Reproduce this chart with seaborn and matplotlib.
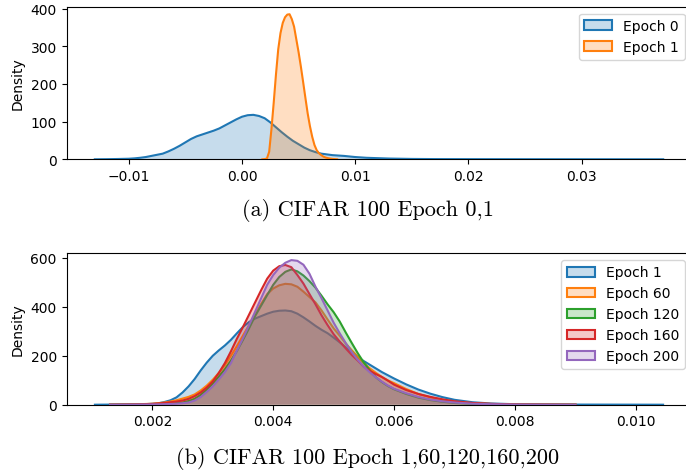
import numpy as np
import matplotlib
matplotlib.use("Agg")
import matplotlib.pyplot as plt
import matplotlib.patches as mpatches
from matplotlib.colors import to_rgba
import seaborn as sns

# ---- (a) CIFAR 100, epochs 0 and 1: density curves ----
top_labels = ["Epoch 0", "Epoch 1"]

top_x_epoch0 = [
    -0.0130, -0.0120, -0.0110,
    -0.0100, -0.0095, -0.0090, -0.0085, -0.0080, -0.0075, -0.0070, -0.0065,
    -0.0060, -0.0055, -0.0050, -0.0045, -0.0040, -0.0035, -0.0030, -0.0025,
    -0.0020, -0.0015, -0.0010, -0.0005, 0.0000, 0.0005, 0.0010, 0.0015,
    0.0020, 0.0025, 0.0030, 0.0035, 0.0040, 0.0045, 0.0050, 0.0055,
    0.0060, 0.0065, 0.0070, 0.0075, 0.0080, 0.0085, 0.0090, 0.0095, 0.0100,
    0.011, 0.012, 0.013, 0.015, 0.017, 0.020, 0.025, 0.030, 0.0372,
]
top_d_epoch0 = [
    0, 0.3, 0.8,
    1.5, 2.5, 4, 6, 9, 12, 15, 21,
    28, 36, 45, 54, 61, 66, 71, 76,
    82, 90, 98, 106, 113, 117, 118, 115,
    109, 98, 85, 72, 60, 49, 40, 31,
    24, 19, 15, 13, 11, 10, 9, 7.5, 6,
    4, 3, 2, 1, 0.6, 0.4, 0.25, 0.15, 0,
]

top_x_epoch1 = [
    0.0018, 0.0020, 0.0022, 0.0024, 0.0026, 0.0028, 0.0030, 0.0032, 0.0034,
    0.0036, 0.0038, 0.0040, 0.0042, 0.0044, 0.0046, 0.0048, 0.0050, 0.0052,
    0.0054, 0.0056, 0.0058, 0.0060, 0.0062, 0.0064, 0.0066, 0.0068, 0.0070,
    0.0072, 0.0074, 0.0076, 0.0078, 0.0080, 0.0082, 0.0084,
]
top_d_epoch1 = [
    0, 0.5, 2, 20, 80, 150, 225, 292, 335,
    362, 377, 384, 385, 372, 352, 318, 284, 246,
    205, 163, 122, 88, 60, 38, 24, 16, 11,
    7, 4.5, 3, 1.8, 1, 0.5, 0,
]

# ---- (b) CIFAR 100, epochs 1 to 200: density curves on a shared grid ----
nan = np.nan
bottom_labels = ["Epoch 1", "Epoch 60", "Epoch 120", "Epoch 160", "Epoch 200"]

bottom_x = [
    0.00105, 0.0013, 0.0015, 0.0017, 0.0019,
    0.0020, 0.0021, 0.0022, 0.0023, 0.0024, 0.0025, 0.0026, 0.0027, 0.0028, 0.0029,
    0.0030, 0.0031, 0.0032, 0.0033, 0.0034, 0.0035, 0.0036, 0.0037, 0.0038, 0.0039,
    0.0040, 0.0041, 0.0042, 0.0043, 0.0044, 0.0045, 0.0046, 0.0047, 0.0048, 0.0049,
    0.0050, 0.0051, 0.0052, 0.0053, 0.0054, 0.0055, 0.0056, 0.0057, 0.0058, 0.0059,
    0.0060,
    0.0062, 0.0064, 0.0066, 0.0068, 0.0070, 0.0073, 0.0076, 0.0080, 0.0085,
    0.0090, 0.0095, 0.0100, 0.01045,
]
bottom_d_epoch1 = [
    0, 0.5, 1, 1.5, 2.5,
    4, 6, 11, 18, 30, 50, 75, 105, 140, 172,
    200, 222, 242, 265, 292, 318, 338, 352, 362, 372,
    380, 384, 385, 382, 372, 357, 340, 322, 306, 292,
    274, 255, 235, 213, 193, 178, 163, 148, 133, 120,
    107,
    83, 62, 45, 31, 20, 10, 5, 2, 1,
    0.6, 0.4, 0.2, 0,
]
bottom_d_epoch60 = [
    nan, 0, 0.5, 1.5, 3,
    4, 6, 9, 13, 18, 25, 32, 42, 58, 78,
    102, 130, 162, 200, 240, 283, 325, 370, 412, 452,
    475, 488, 494, 492, 482, 462, 440, 418, 385, 348,
    312, 282, 250, 222, 196, 170, 148, 130, 113, 99,
    88,
    64, 44, 30, 20, 12, 6, 3, 1, 0.4,
    0, nan, nan, nan,
]
bottom_d_epoch120 = [
    nan, 0, 0.3, 0.8, 1.5,
    2, 3, 4, 5, 7, 9, 15, 24, 40, 62,
    87, 115, 145, 180, 220, 265, 312, 362, 405, 448,
    490, 522, 543, 553, 545, 528, 505, 478, 445, 410,
    378, 340, 295, 252, 210, 172, 140, 112, 92, 76,
    63,
    44, 29, 19, 12, 7, 3.5, 1.8, 0.7, 0.2,
    0, nan, nan, nan,
]
bottom_d_epoch160 = [
    nan, 0, 0.5, 1.2, 2.2,
    3, 5, 7, 10, 13, 17, 24, 35, 50, 70,
    95, 130, 170, 218, 270, 318, 368, 418, 468, 515,
    548, 566, 571, 562, 530, 495, 452, 410, 365, 325,
    288, 258, 230, 203, 180, 155, 138, 125, 113, 98,
    82,
    60, 44, 32, 22, 14, 7, 3.5, 1.3, 0.5,
    0, nan, nan, nan,
]
bottom_d_epoch200 = [
    nan, 0, 0.2, 0.5, 0.8,
    1, 1.5, 2, 3, 4, 6, 9, 17, 31, 52,
    75, 103, 133, 170, 222, 272, 325, 380, 435, 490,
    530, 560, 580, 591, 588, 572, 535, 482, 435, 385,
    335, 292, 252, 215, 183, 155, 132, 112, 94, 78,
    65,
    47, 32, 21, 14, 9, 4, 2, 0.7, 0.2,
    0, nan, nan, nan,
]

captions = ["(a) CIFAR 100 Epoch 0,1", "(b) CIFAR 100 Epoch 1,60,120,160,200"]

palette = sns.color_palette("tab10")


def draw_density(ax, x, d, color, layer):
    """Filled density curve: translucent area with a solid outline on top."""
    x = np.asarray(x, dtype=float)
    d = np.asarray(d, dtype=float)
    keep = ~np.isnan(d)
    x, d = x[keep], d[keep]
    ax.fill_between(x, d, 0, facecolor=to_rgba(color, 0.25),
                    edgecolor="none", zorder=2 + 2 * layer)
    sns.lineplot(x=x, y=d, color=color, linewidth=1.5, ax=ax,
                 estimator=None, sort=False, legend=False,
                 zorder=3 + 2 * layer)


def legend_handles(labels, colors):
    return [mpatches.Patch(facecolor=to_rgba(c, 0.25), edgecolor=c,
                           linewidth=1.5, label=lab)
            for lab, c in zip(labels, colors)]


fig = plt.figure(figsize=(6.86, 4.77), dpi=100)
left, width = 66.5 / 686, 625 / 686
ax_top = fig.add_axes([left, 1 - 160.3 / 477, width, 152.6 / 477])
ax_bot = fig.add_axes([left, 1 - 405.7 / 477, width, 151.7 / 477])

# top panel
for i, (x, d) in enumerate([(top_x_epoch0, top_d_epoch0),
                            (top_x_epoch1, top_d_epoch1)]):
    draw_density(ax_top, x, d, palette[i], i)
ax_top.set_xlim(-0.0155, 0.0397)
ax_top.set_ylim(0, 405)
ax_top.set_ylabel("Density")
ax_top.set_xlabel("")
ax_top.legend(handles=legend_handles(top_labels, palette[:2]), loc="upper right")

# bottom panel
bottom_series = [bottom_d_epoch1, bottom_d_epoch60, bottom_d_epoch120,
                 bottom_d_epoch160, bottom_d_epoch200]
for i, d in enumerate(bottom_series):
    draw_density(ax_bot, bottom_x, d, palette[i], i)
ax_bot.set_xlim(0.00058, 0.01092)
ax_bot.set_ylim(0, 620)
ax_bot.set_ylabel("Density")
ax_bot.set_xlabel("")
ax_bot.legend(handles=legend_handles(bottom_labels, palette[:5]), loc="upper right")

# sub-captions
fig.text(368 / 686, 1 - 211 / 477, captions[0], ha="center", va="center",
         fontfamily="cmr10", fontsize=16)
fig.text(368 / 686, 1 - 459 / 477, captions[1], ha="center", va="center",
         fontfamily="cmr10", fontsize=16)

fig.savefig("out.png", dpi=100)
